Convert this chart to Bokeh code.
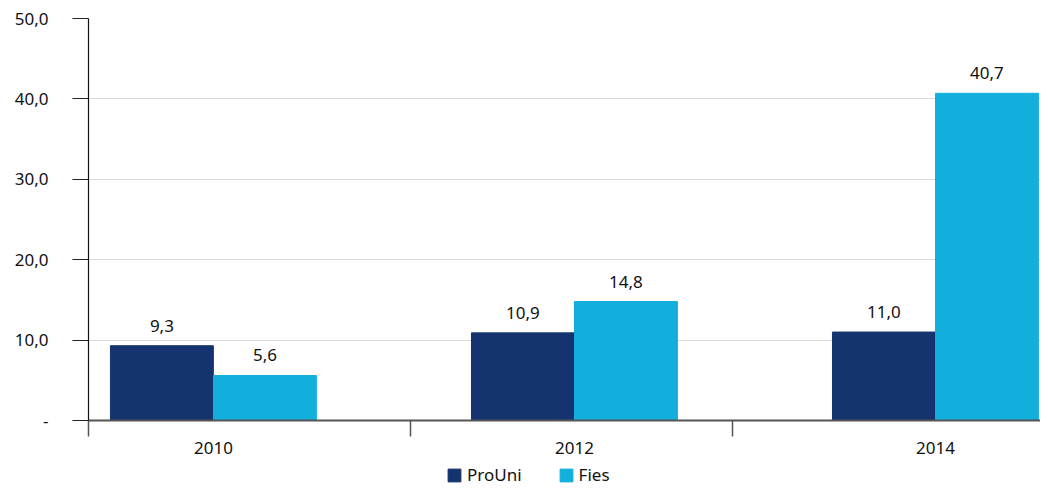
import numpy as np
from bokeh.plotting import figure
from bokeh.layouts import column
from bokeh.models import ColumnDataSource, FixedTicker, Legend, LegendItem, Range1d
from bokeh.core.properties import value
from bokeh.embed import file_html
from bokeh.resources import INLINE

years = ["2010", "2012", "2014"]
prouni = [9.3, 10.9, 11.0]
fies = [5.6, 14.8, 40.7]
series_names = ["ProUni", "Fies"]
y_ticks = [0, 10, 20, 30, 40, 50]
y_tick_labels = ["-", "10,0", "20,0", "30,0", "40,0", "50,0"]

NAVY = "#14336f"
CYAN = "#12afdd"
FONT = "Noto Sans"
FS = "17px"

def fmt(v):
    return f"{v:.1f}".replace(".", ",")

xs = np.arange(len(years))
half = 0.1427
bw = 0.285

src_p = ColumnDataSource(dict(x=xs - half, y=prouni, lab=[fmt(v) for v in prouni]))
src_f = ColumnDataSource(dict(x=xs + half, y=fies, lab=[fmt(v) for v in fies]))

p = figure(frame_width=952, frame_height=402, output_backend="svg", toolbar_location=None,
           x_range=Range1d(-0.346, 2.291), y_range=Range1d(0, 50),
           min_border_left=88, min_border_right=0, min_border_top=18, min_border_bottom=44)
p.outline_line_color = None
p.background_fill_color = "white"

p.vbar(x="x", top="y", width=bw, source=src_p, fill_color=NAVY, line_color=NAVY)
p.vbar(x="x", top="y", width=bw, source=src_f, fill_color=CYAN, line_color=CYAN)

for s in (src_p, src_f):
    p.text(x="x", y="y", text="lab", source=s, text_align="center", text_baseline="bottom",
           y_offset=-14, text_font=value(FONT), text_font_size=FS, text_color="#111111")

# y axis
p.yaxis.ticker = FixedTicker(ticks=y_ticks)
p.yaxis.major_label_overrides = {t: l for t, l in zip(y_ticks, y_tick_labels)}
p.yaxis.major_tick_out = 16
p.yaxis.major_tick_in = 0
p.yaxis.minor_tick_out = 0
p.yaxis.minor_tick_in = 0
p.yaxis.major_tick_line_color = "#222222"
p.yaxis.axis_line_color = "#111111"
p.yaxis.axis_line_width = 1.2
p.yaxis.major_label_standoff = 24
p.yaxis.major_label_text_font = FONT
p.yaxis.major_label_text_font_size = FS
p.yaxis.major_label_text_color = "#111111"

# x axis: labels at bar groups, ticks at category boundaries
p.xaxis.ticker = FixedTicker(ticks=list(xs), minor_ticks=[-0.346, 0.546, 1.438])
p.xaxis.major_label_overrides = {int(i): y for i, y in zip(xs, years)}
p.xaxis.major_tick_out = 0
p.xaxis.major_tick_in = 0
p.xaxis.minor_tick_out = 16
p.xaxis.minor_tick_in = 0
p.xaxis.minor_tick_line_color = "#555555"
p.xaxis.minor_tick_line_width = 1.5
p.xaxis.axis_line_color = "#555555"
p.xaxis.axis_line_width = 1.8
p.xaxis.major_label_standoff = 5
p.xaxis.major_label_text_font = FONT
p.xaxis.major_label_text_font_size = FS
p.xaxis.major_label_text_color = "#111111"

p.xgrid.grid_line_color = None
p.ygrid.ticker = FixedTicker(ticks=y_ticks[1:])
p.ygrid.grid_line_color = "#d9d9d9"
p.ygrid.grid_line_width = 1

# legend strip below the chart (its bars lie outside its own range, only the legend shows)
lf = figure(width=1040, height=22, output_backend="svg", toolbar_location=None,
            x_range=Range1d(100, 101), y_range=Range1d(100, 101),
            min_border_left=0, min_border_right=0, min_border_top=0, min_border_bottom=0)
lf.axis.visible = False
lf.grid.grid_line_color = None
lf.outline_line_color = None
lr1 = lf.vbar(x="x", top="y", width=bw, source=src_p, fill_color=NAVY, line_color=NAVY)
lr2 = lf.vbar(x="x", top="y", width=bw, source=src_f, fill_color=CYAN, line_color=CYAN)

legend = Legend(items=[LegendItem(label=series_names[0], renderers=[lr1]),
                       LegendItem(label=series_names[1], renderers=[lr2])],
                orientation="horizontal", location=(358, 0))
legend.border_line_color = None
legend.background_fill_alpha = 0
legend.glyph_width = 16
legend.glyph_height = 16
legend.label_standoff = 5
legend.spacing = 36
legend.padding = 0
legend.margin = 0
legend.label_text_font = FONT
legend.label_text_font_size = FS
legend.label_text_color = "#111111"
lf.add_layout(legend, "center")

layout = column(p, lf, spacing=0)
open("out.html", "w").write(file_html(layout, INLINE))
